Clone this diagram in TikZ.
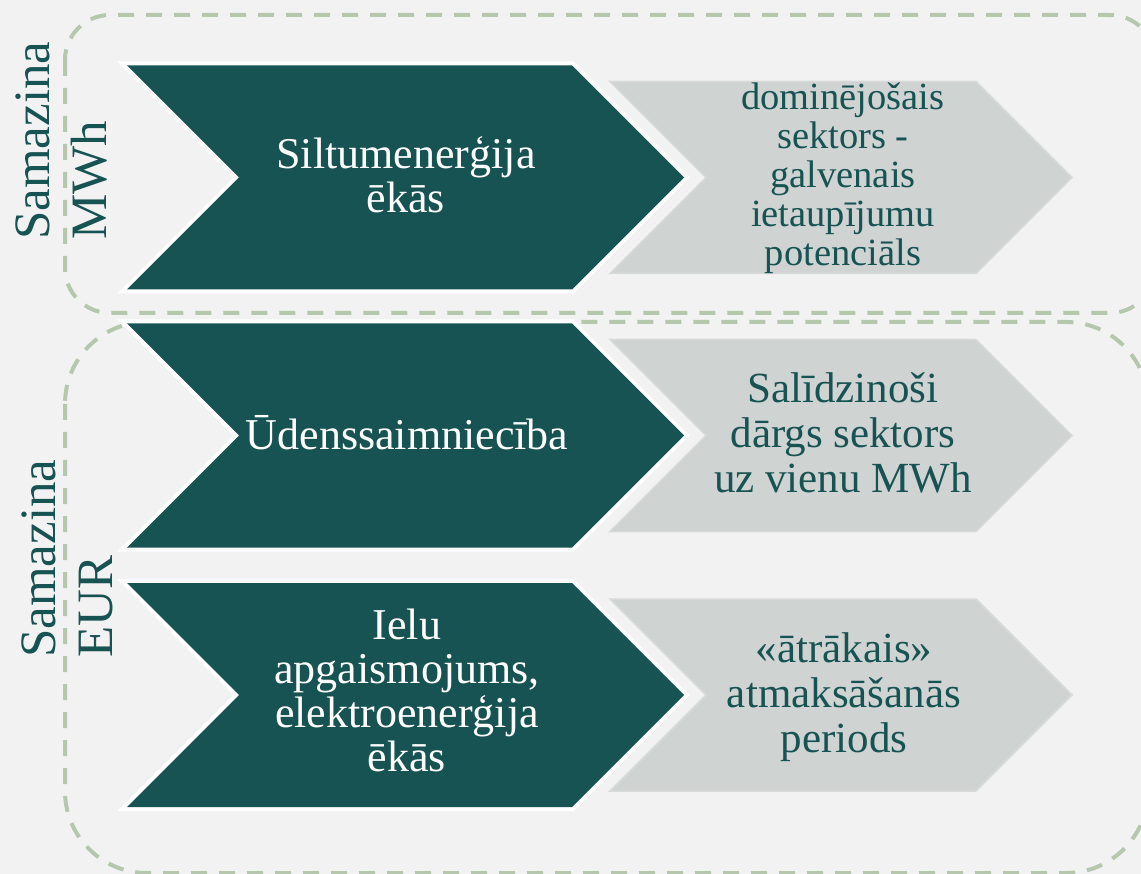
\documentclass[tikz,border=0pt]{standalone}
\usepackage{fontspec}
\setmainfont{Liberation Serif}
\definecolor{bg}{HTML}{F2F2F2}
\definecolor{dk}{HTML}{175352}
\definecolor{lt}{HTML}{CFD3D2}
\definecolor{lte}{HTML}{D7DAD8}
\definecolor{dsh}{HTML}{B5C8AE}
\tikzset{
  darkchev/.style={fill=dk},
  lightchev/.style={fill=lt, draw=lte, line width=1.5pt, line join=miter},
  whiteedge/.style={draw=white, line width=8pt, line join=miter},
  grp/.style={draw=dsh, line width=4pt, dash pattern=on 16pt off 12pt},
  dtext/.style={text=white, align=center, inner sep=0pt, font=\fontsize{44}{44}\selectfont},
  ltext/.style={text=dk, align=center, inner sep=0pt, font=\fontsize{43}{45}\selectfont},
  stext/.style={text=dk, align=center, inner sep=0pt, font=\fontsize{38.5}{39}\selectfont},
  side/.style={text=dk, rotate=90, anchor=base west, inner sep=0pt, font=\fontsize{51}{57}\selectfont},
}
\begin{document}
\begin{tikzpicture}[x=1pt,y=-1pt]
\fill[bg] (0,0) rectangle (1141,874);
\useasboundingbox (0,0) rectangle (1141,874);
% group frames
\draw[grp, rounded corners=45pt] (65,15) rectangle (1155,313);
\draw[grp, rounded corners=82pt] (65,322) rectangle (1148,873);
% chevrons
\foreach \c in {177.5,435.5,695}{
  \path[whiteedge] (127,{\c-112}) -- (572,{\c-112}) -- (684,\c) -- (572,{\c+112}) -- (127,{\c+112}) -- (239,\c) -- cycle;
  \fill[darkchev] (127,{\c-112}) -- (572,{\c-112}) -- (684,\c) -- (572,{\c+112}) -- (127,{\c+112}) -- (239,\c) -- cycle;
  \path[lightchev] (610,{\c-96}) -- (976,{\c-96}) -- (1072,\c) -- (976,{\c+96}) -- (610,{\c+96}) -- (706,\c) -- cycle;
}
% texts
\node[dtext] (d1) at (406,181) {\strut Siltumenerģija\\ ēkās\strut};
\node[dtext] (d2) at (407,439) {\strut Ūdenssaimniecība\strut};
\node[dtext] (d3) at (407,697) {\strut Ielu\\ apgaismojums,\\ elektroenerģija\\ ēkās\strut};
\node[stext] (g1) at (843,180) {\strut dominējošais\\ sektors -\\ galvenais\\ ietaupījumu\\ potenciāls\strut};
\node[ltext] (g2) at (843,439) {\strut Salīdzinoši\\ dārgs sektors\\ uz vienu MWh\strut};
\node[ltext] (g3) at (844,698) {\strut «ātrākais»\\ atmaksāšanās\\ periods\strut};
% side labels
\node[side] (s1a) at (49,240) {Samazina};
\node[side] (s1b) at (106,240) {MWh};
\node[side] (s2a) at (55,658) {Samazina};
\node[side] (s2b) at (112,658) {EUR};
\end{tikzpicture}
\end{document}
